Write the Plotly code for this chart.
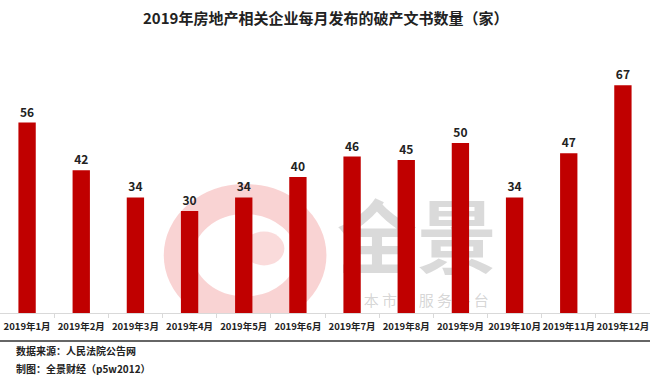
import plotly.graph_objects as go

categories = ["2019年1月", "2019年2月", "2019年3月", "2019年4月", "2019年5月", "2019年6月",
              "2019年7月", "2019年8月", "2019年9月", "2019年10月", "2019年11月", "2019年12月"]
values = [56, 42, 34, 30, 34, 40, 46, 45, 50, 34, 47, 67]

title = "2019年房地产相关企业每月发布的破产文书数量（家）"
source = "数据来源：人民法院公告网"
maker = "制图：全景财经（p5w2012）"

FONT = "Noto Sans CJK SC"

fig = go.Figure()
fig.add_trace(go.Bar(
    x=list(range(len(categories))), y=values,
    marker=dict(color="#C00000", line=dict(width=0)),
    width=0.32,
    text=[str(v) for v in values], textposition="outside",
    textfont=dict(family=FONT, size=12, color="#222222", weight="bold"),
    cliponaxis=False,
))

shapes = [
    # watermark logo (approximate)
    dict(type="circle", xref="x", yref="y", x0=2.8, x1=5.25, y0=0.5, y1=33.5,
         line=dict(color="rgba(235,110,110,0.30)", width=30), layer="below"),
    dict(type="circle", xref="x", yref="y", x0=4.0, x1=4.75, y0=14, y1=24,
         line=dict(width=0), fillcolor="rgba(235,110,110,0.25)", layer="below"),
    # watermark text
    dict(type="rect", xref="x", yref="y", x0=5.6, x1=8.8, y0=8, y1=32,
         line=dict(width=0), fillcolor="rgba(0,0,0,0)", layer="below",
         label=dict(text="全景", font=dict(family=FONT, size=80, color="rgba(150,150,150,0.35)", weight="bold"),
                    textposition="middle center")),
    dict(type="rect", xref="x", yref="y", x0=5.6, x1=8.8, y0=1, y1=6,
         line=dict(width=0), fillcolor="rgba(0,0,0,0)", layer="below",
         label=dict(text="资 本 市 场 服 务 平 台", font=dict(family=FONT, size=15, color="rgba(150,150,150,0.4)"),
                    textposition="middle center")),
    # separator line
    dict(type="line", xref="paper", yref="paper", x0=0, x1=1, y0=-0.11, y1=-0.11,
         line=dict(color="#666666", width=2)),
]

fig.update_layout(
    width=650, height=375,
    margin=dict(l=0, r=0, t=58, b=62, autoexpand=False),
    paper_bgcolor="white", plot_bgcolor="white",
    showlegend=False,
    bargap=0.68,
    xaxis=dict(
        tickmode="array", tickvals=list(range(len(categories))), ticktext=categories,
        range=[-0.5, len(categories) - 0.5],
        tickangle=0, automargin=False, ticklabelstandoff=5,
        showline=True, linecolor="#d9d9d9", linewidth=1,
        ticks="", showgrid=False, zeroline=False,
        minor=dict(tickvals=[i + 0.5 for i in range(len(categories) - 1)],
                   ticks="outside", ticklen=4, tickcolor="#d9d9d9", tickwidth=1, showgrid=False),
        tickfont=dict(family=FONT, size=9.5, color="#222222", weight="bold"),
    ),
    yaxis=dict(range=[0, 75], visible=False, showgrid=False, zeroline=False, automargin=False),
    shapes=shapes,
    annotations=[
        dict(text=title, xref="paper", yref="paper", x=0.5, y=1.157, showarrow=False,
             xanchor="center", yanchor="middle",
             font=dict(family=FONT, size=15, color="#222222", weight="bold")),
        dict(text=source, xref="paper", yref="paper", x=0.022, y=-0.149, showarrow=False,
             xanchor="left", yanchor="middle",
             font=dict(family=FONT, size=10, color="#222222", weight="bold")),
        dict(text=maker, xref="paper", yref="paper", x=0.022, y=-0.216, showarrow=False,
             xanchor="left", yanchor="middle",
             font=dict(family=FONT, size=10, color="#222222", weight="bold")),
    ],
)

fig.write_html("out.html", config={"displayModeBar": False},
               post_script="document.body.style.margin='0';document.body.style.overflow='hidden';")
